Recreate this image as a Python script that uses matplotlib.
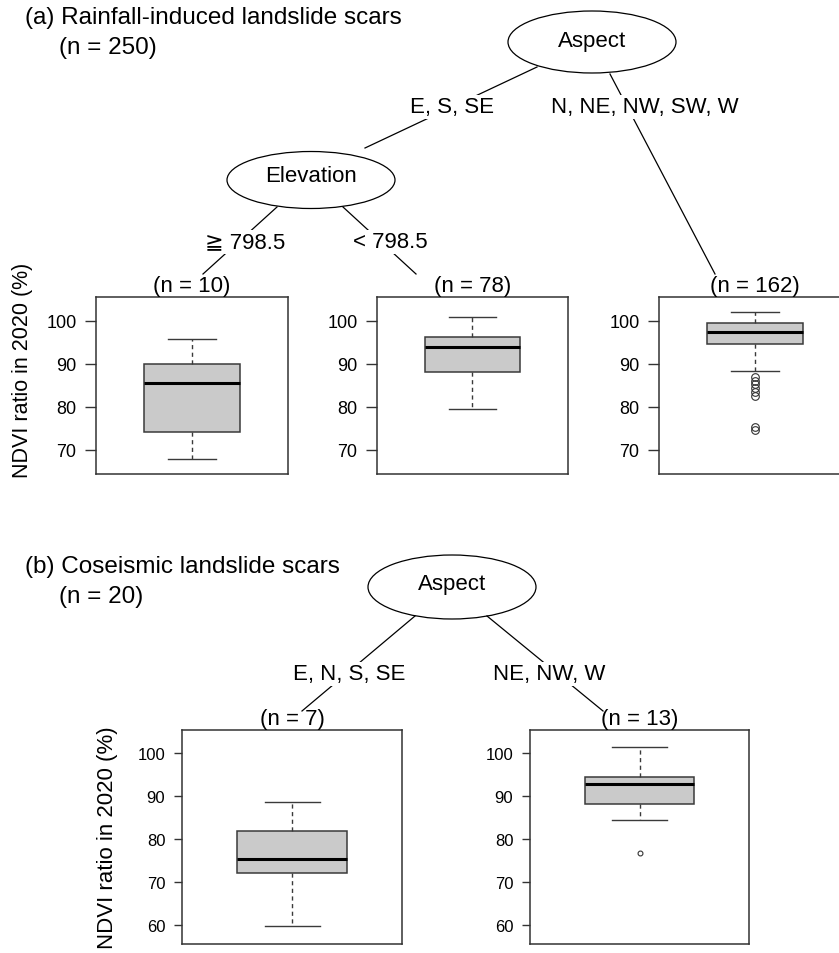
import numpy as np
import matplotlib.pyplot as plt
from matplotlib.patches import Ellipse

plt.rcParams['font.family'] = ['Liberation Sans', 'DejaVu Sans']

# panel (a): rainfall-induced scars, leaves of the tree
a_leaves = ["(n = 10)", "(n = 78)", "(n = 162)"]
a_q1 = [74.0, 88.1, 94.5]
a_med = [85.4, 93.9, 97.4]
a_q3 = [90.0, 96.1, 99.4]
a_lo = [67.9, 79.5, 88.4]
a_hi = [95.7, 100.8, 101.9]
a_out = [[], [], [86.8, 86.0, 85.2, 84.3, 83.4, 82.5, 75.2, 74.6]]
a_ticks = [70, 80, 90, 100]

# panel (b): coseismic scars
b_leaves = ["(n = 7)", "(n = 13)"]
b_q1 = [72.2, 88.2]
b_med = [75.5, 92.7]
b_q3 = [81.8, 94.3]
b_lo = [59.8, 84.5]
b_hi = [88.5, 101.3]
b_out = [[], [76.9]]
b_ticks = [60, 70, 80, 90, 100]

ylab = "NDVI ratio in 2020 (%)"

W, H = 839, 954
fig = plt.figure(figsize=(W / 100, H / 100), dpi=100)


def px_axes(x0, x1, y0, y1):
    return fig.add_axes([x0 / W, 1 - y1 / H, (x1 - x0) / W, (y1 - y0) / H])


def draw_box(ax, q1, med, q3, lo, hi, out, ylim, ticks, fs, tl, ms):
    st = [dict(q1=q1, med=med, q3=q3, whislo=lo, whishi=hi, fliers=np.array(out))]
    ax.bxp(st, positions=[1], widths=0.5, capwidths=0.25, patch_artist=True,
           boxprops=dict(facecolor='#cacaca', edgecolor='#3a3a3a', lw=1.1),
           medianprops=dict(color='black', lw=2.2),
           whiskerprops=dict(color='#3a3a3a', lw=1.0, ls=(0, (3, 2.5))),
           capprops=dict(color='#3a3a3a', lw=1.0),
           flierprops=dict(marker='o', mfc='none', mec='#333333', ms=ms, mew=0.8))
    ax.set_xlim(0.5, 1.5)
    ax.set_ylim(*ylim)
    ax.set_xticks([])
    ax.set_yticks(ticks)
    ax.tick_params(axis='y', labelsize=fs, length=tl, width=1.0, color='#333333', pad=6)
    for s in ax.spines.values():
        s.set_color('#333333')
        s.set_linewidth(1.1)


# panel (a) boxes
a_axes = [(96, 288), (377, 568), (659, 851)]
for i, (x0, x1) in enumerate(a_axes):
    ax = px_axes(x0, x1, 298, 475)
    draw_box(ax, a_q1[i], a_med[i], a_q3[i], a_lo[i], a_hi[i], a_out[i],
             (64.35, 105.5), a_ticks, 13, 8, 5.5)

# panel (b) boxes
b_axes = [(182, 402), (530, 749)]
for i, (x0, x1) in enumerate(b_axes):
    ax = px_axes(x0, x1, 731, 945)
    draw_box(ax, b_q1[i], b_med[i], b_q3[i], b_lo[i], b_hi[i], b_out[i],
             (55.7, 105.3), b_ticks, 12, 6, 3.5)

# overlay for the tree drawing, in pixel units
ov = fig.add_axes([0, 0, 1, 1])
ov.set_xlim(0, W)
ov.set_ylim(H, 0)
ov.axis('off')

tfs = 16


def node(x, y, w, h, txt, ty):
    ov.add_patch(Ellipse((x, y), w, h, fc='white', ec='black', lw=0.9))
    ov.text(x, ty, txt, ha='center', va='center', fontsize=tfs)


def edge(p0, p1, lab, lx, ly):
    ov.plot([p0[0], p1[0]], [p0[1], p1[1]], color='black', lw=0.9)
    ov.text(lx, ly, lab, ha='center', va='center', fontsize=tfs,
            bbox=dict(fc='white', ec='none', boxstyle='square,pad=0.05'))


# tree (a)
edge((537, 68), (365, 149), "E, S, SE", 452, 108)
edge((610, 75), (715, 275), "N, NE, NW, SW, W", 645, 108)
edge((277, 208), (203, 275), "\u2267 798.5", 245, 243)
edge((343, 208), (416, 275), "< 798.5", 390, 243)
node(592, 43, 168, 62, "Aspect", 41)
node(311, 181, 168, 57, "Elevation", 177)

# tree (b)
edge((415, 617), (302, 712), "E, N, S, SE", 349, 675)
edge((487, 617), (603, 712), "NE, NW, W", 549, 675)
node(452, 588, 168, 64, "Aspect", 585)

# leaf labels
for (x0, x1), lab in zip(a_axes, a_leaves):
    ov.text((x0 + x1) / 2, 287, lab, ha='center', va='center', fontsize=tfs)
for (x0, x1), lab in zip(b_axes, b_leaves):
    ov.text((x0 + x1) / 2, 720, lab, ha='center', va='center', fontsize=tfs)

# y labels
ov.text(23, 370, ylab, rotation=90, ha='center', va='center', fontsize=15.5)
ov.text(107, 838, ylab, rotation=90, ha='center', va='center', fontsize=16)

# titles
ov.text(25, 18, "(a) Rainfall-induced landslide scars", ha='left', va='center', fontsize=17.5)
ov.text(59, 48, "(n = 250)", ha='left', va='center', fontsize=17.5)
ov.text(25, 567, "(b) Coseismic landslide scars", ha='left', va='center', fontsize=17.5)
ov.text(59, 597, "(n = 20)", ha='left', va='center', fontsize=17.5)

fig.savefig('out.png', dpi=100)
